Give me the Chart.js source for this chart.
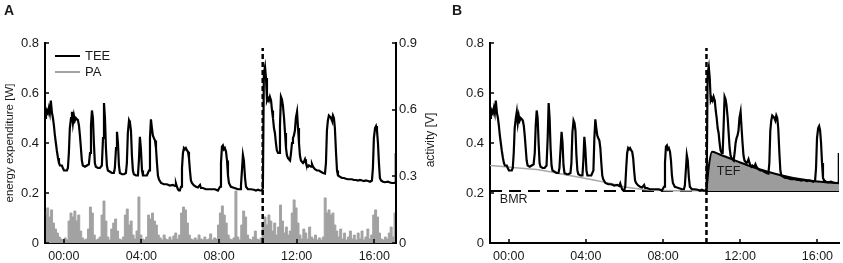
<!DOCTYPE html>
<html><head><meta charset="utf-8">
<script src="https://cdn.jsdelivr.net/npm/chart.js@4.4.0/dist/chart.umd.min.js"></script>
<style>
html,body{margin:0;padding:0;background:#fff;}
#wrap{position:relative;width:843px;height:263px;overflow:hidden;}
#cA{position:absolute;left:0;top:0;}
#cB{position:absolute;left:440px;top:0;}
</style></head><body>
<div id="wrap"><canvas id="cA" width="440" height="263"></canvas><canvas id="cB" width="403" height="263"></canvas></div>
<script>
// ---- data (hours relative to midnight) ----
const xMin = -0.97, xMax = 17.12;
const xTickHours = [0, 4, 8, 12, 16];
const xTickLabels = ['00:00', '04:00', '08:00', '12:00', '16:00'];
const mealHour = 10.25;
const mealLineTop = 0.78;

const teeHours = [-0.95,-0.92,-0.87,-0.82,-0.77,-0.72,-0.67,-0.61,-0.56,-0.51,-0.46,-0.41,-0.36,-0.30,-0.25,-0.20,-0.10,-0.05,0.01,0.06,0.11,0.16,0.21,0.26,0.31,0.37,0.42,0.47,0.52,0.57,0.62,0.68,0.73,0.78,0.83,0.88,0.93,0.98,1.09,1.19,1.29,1.35,1.40,1.45,1.50,1.55,1.60,1.65,1.76,1.86,1.96,2.02,2.07,2.12,2.17,2.22,2.27,2.38,2.48,2.58,2.63,2.69,2.74,2.79,2.84,2.89,3.00,3.10,3.20,3.25,3.30,3.36,3.41,3.46,3.51,3.56,3.61,3.72,3.82,3.87,3.92,3.97,4.03,4.08,4.18,4.28,4.39,4.44,4.49,4.54,4.59,4.64,4.70,4.75,4.80,4.85,4.90,5.01,5.16,5.31,5.47,5.62,5.73,5.78,5.83,5.88,5.93,5.98,6.04,6.09,6.14,6.19,6.24,6.29,6.35,6.40,6.45,6.50,6.55,6.60,6.71,6.81,6.91,7.02,7.07,7.17,7.32,7.48,7.63,7.79,7.94,8.05,8.10,8.15,8.20,8.25,8.30,8.36,8.41,8.46,8.51,8.61,8.72,8.87,8.97,9.08,9.13,9.18,9.23,9.28,9.34,9.39,9.49,9.64,9.80,9.90,10.01,10.11,10.21,10.26,10.31,10.37,10.42,10.47,10.52,10.57,10.62,10.68,10.73,10.78,10.83,10.88,10.93,10.98,11.04,11.09,11.14,11.19,11.24,11.29,11.35,11.40,11.45,11.50,11.55,11.60,11.66,11.71,11.76,11.81,11.86,11.91,11.96,12.02,12.07,12.12,12.17,12.22,12.27,12.33,12.38,12.43,12.48,12.53,12.58,12.63,12.74,12.79,12.84,12.94,13.05,13.15,13.25,13.36,13.46,13.51,13.56,13.61,13.66,13.72,13.77,13.82,13.87,13.92,13.97,14.03,14.08,14.13,14.23,14.34,14.44,14.54,14.64,14.75,14.85,14.95,15.06,15.16,15.26,15.37,15.47,15.57,15.68,15.78,15.88,15.93,15.98,16.04,16.09,16.14,16.19,16.24,16.29,16.35,16.45,16.55,16.71,16.81,16.91,17.02,17.07,17.11];
const teeWatts = [0.50,0.51,0.53,0.52,0.54,0.52,0.57,0.52,0.50,0.47,0.43,0.40,0.37,0.34,0.32,0.31,0.31,0.30,0.29,0.29,0.29,0.29,0.30,0.36,0.46,0.50,0.525,0.48,0.51,0.49,0.50,0.495,0.49,0.47,0.43,0.38,0.33,0.31,0.305,0.31,0.315,0.36,0.47,0.53,0.50,0.40,0.32,0.305,0.30,0.30,0.31,0.42,0.56,0.50,0.38,0.31,0.29,0.285,0.28,0.28,0.30,0.38,0.445,0.40,0.31,0.28,0.275,0.275,0.28,0.32,0.44,0.49,0.48,0.45,0.35,0.29,0.275,0.27,0.27,0.33,0.425,0.38,0.29,0.27,0.27,0.27,0.29,0.42,0.495,0.46,0.43,0.42,0.41,0.38,0.32,0.27,0.255,0.24,0.235,0.235,0.23,0.232,0.228,0.238,0.225,0.215,0.21,0.21,0.225,0.30,0.36,0.38,0.375,0.38,0.37,0.365,0.34,0.29,0.25,0.24,0.23,0.225,0.222,0.232,0.22,0.22,0.215,0.215,0.215,0.215,0.21,0.225,0.32,0.385,0.39,0.375,0.38,0.365,0.33,0.27,0.24,0.225,0.222,0.218,0.215,0.215,0.23,0.29,0.352,0.33,0.26,0.225,0.215,0.215,0.213,0.21,0.213,0.21,0.21,0.22,0.68,0.705,0.66,0.57,0.58,0.57,0.585,0.57,0.53,0.50,0.46,0.44,0.40,0.37,0.36,0.36,0.47,0.585,0.575,0.55,0.50,0.44,0.38,0.35,0.34,0.335,0.33,0.36,0.40,0.42,0.43,0.45,0.50,0.525,0.46,0.40,0.35,0.33,0.325,0.32,0.325,0.335,0.32,0.31,0.305,0.31,0.305,0.315,0.305,0.295,0.29,0.29,0.285,0.28,0.278,0.32,0.45,0.49,0.51,0.505,0.50,0.49,0.51,0.50,0.46,0.36,0.29,0.27,0.265,0.26,0.26,0.257,0.255,0.255,0.255,0.252,0.252,0.25,0.252,0.25,0.248,0.25,0.248,0.245,0.25,0.30,0.42,0.46,0.468,0.45,0.40,0.32,0.26,0.25,0.245,0.243,0.245,0.242,0.24,0.24,0.242,0.36];

// physical activity, sampled every 0.1 h from paStartHour
const paStartHour = -0.93;
const paStepHours = 0.1;
const paVolts = [0.135,0.158,0.117,0.149,0.090,0.063,0.045,0.027,0.018,0.014,0.023,0.014,0.099,0.135,0.117,0.144,0.099,0.126,0.054,0.023,0.014,0.018,0.063,0.162,0.135,0.036,0.014,0.018,0.027,0.126,0.189,0.099,0.027,0.014,0.063,0.090,0.108,0.054,0.018,0.014,0.027,0.126,0.153,0.081,0.099,0.036,0.018,0.054,0.207,0.036,0.018,0.014,0.027,0.126,0.108,0.135,0.099,0.081,0.036,0.023,0.014,0.036,0.018,0.014,0.027,0.014,0.032,0.045,0.018,0.036,0.135,0.162,0.149,0.090,0.036,0.018,0.014,0.023,0.014,0.036,0.018,0.014,0.027,0.014,0.018,0.041,0.014,0.023,0.018,0.081,0.135,0.167,0.126,0.090,0.036,0.018,0.014,0.023,0.234,0.027,0.014,0.081,0.144,0.117,0.036,0.018,0.014,0.027,0.054,0.018,0.014,0.023,0.090,0.117,0.081,0.126,0.099,0.054,0.090,0.036,0.072,0.171,0.099,0.045,0.072,0.036,0.054,0.135,0.194,0.158,0.090,0.036,0.018,0.063,0.045,0.018,0.072,0.027,0.018,0.036,0.014,0.023,0.014,0.027,0.203,0.135,0.149,0.126,0.135,0.081,0.054,0.027,0.063,0.018,0.045,0.014,0.027,0.054,0.018,0.036,0.014,0.045,0.018,0.054,0.014,0.027,0.063,0.018,0.036,0.126,0.149,0.117,0.045,0.018,0.014,0.027,0.018,0.045,0.072,0.027,0.135];

// panel B model curves
const bmrWatts = 0.208;
const baselineHours = [-0.97, 0.5, 1.6, 3.0, 4.2, 5.3, 6.2, 7.0, 8.0, 10.25];
const baselineWatts = [0.31, 0.30, 0.292, 0.272, 0.255, 0.238, 0.222, 0.214, 0.21, 0.209];
const tefHours = [10.25, 10.37, 10.54, 10.88, 11.31, 12.0, 12.6, 13.3, 14.0, 14.75, 15.5, 16.3, 17.12];
const tefWatts = [0.208, 0.305, 0.365, 0.356, 0.343, 0.322, 0.305, 0.288, 0.273, 0.26, 0.251, 0.244, 0.239];

// ---- build points ----
const pts = (xs, ys) => xs.map((x, i) => ({x: x, y: ys[i]}));
const teePoints = pts(teeHours, teeWatts);
const paPoints = paVolts.map((v, i) => ({x: paStartHour + i * paStepHours, y: v}));
const mealPoints = [{x: mealHour, y: 0}, {x: mealHour, y: mealLineTop}];
const baselinePoints = pts(baselineHours, baselineWatts);
const tefPoints = pts(tefHours, tefWatts);
const bmrDashPoints = [{x: xMin, y: bmrWatts}, {x: mealHour, y: bmrWatts}];
const bmrSolidPoints = [{x: mealHour, y: bmrWatts}, {x: xMax, y: bmrWatts}];

const FONT = '"Liberation Sans", Arial, Helvetica, sans-serif';
Chart.defaults.font.family = FONT;
Chart.defaults.color = '#1a1a1a';
Chart.defaults.animation = false;

const TXT = '#1a1a1a';
const PA_GRAY = '#a2a2a2';

function xScaleCfg() {
  return {
    type: 'linear', min: xMin, max: xMax,
    afterBuildTicks: s => { s.ticks = xTickHours.map(v => ({value: v})); },
    ticks: { autoSkip: false, maxRotation: 0, padding: 6, font: {size: 12.5},
             callback: v => { const i = xTickHours.indexOf(v); return i >= 0 ? xTickLabels[i] : ''; } },
    grid: { display: false, drawTicks: false },
    border: { display: true, color: '#000', width: 2 },
    afterFit: s => { s.height = 20; }
  };
}

function drawInwardTicks(chart, specs) {
  const ctx = chart.ctx, ca = chart.chartArea;
  ctx.save();
  ctx.strokeStyle = '#000'; ctx.lineWidth = 1.5;
  specs.forEach(([id, dir]) => {
    const s = chart.scales[id];
    s.ticks.forEach(t => {
      const p = Math.round(s.getPixelForValue(t.value));
      ctx.beginPath();
      if (dir === 'up') { ctx.moveTo(p, ca.bottom); ctx.lineTo(p, ca.bottom - 4); }
      else if (dir === 'right') { ctx.moveTo(ca.left, p); ctx.lineTo(ca.left + 4, p); }
      else { ctx.moveTo(ca.right, p); ctx.lineTo(ca.right - 4, p); }
      ctx.stroke();
    });
  });
  ctx.restore();
}

function text(ctx, str, x, y, font, align, rot) {
  ctx.save();
  ctx.font = font; ctx.fillStyle = TXT; ctx.textAlign = align || 'left'; ctx.textBaseline = 'middle';
  ctx.translate(x, y);
  if (rot) ctx.rotate(rot);
  ctx.fillText(str, 0, 0);
  ctx.restore();
}

const decorA = {
  id: 'decorA',
  afterDraw(chart) {
    const ctx = chart.ctx, ca = chart.chartArea;
    drawInwardTicks(chart, [['x', 'up'], ['y', 'right'], ['y1', 'left']]);
    // right axis title (reads bottom to top)
    text(ctx, 'activity [V]', 431, (ca.top + ca.bottom) / 2 - 3, '12px ' + FONT, 'center', -Math.PI / 2);
    // legend
    const ds = chart.data.datasets.filter(d => d.inLegend);
    ds.forEach((d, i) => {
      const y = ca.top + 13 + i * 16;
      ctx.save();
      ctx.strokeStyle = d.borderColor; ctx.lineWidth = 2;
      ctx.beginPath(); ctx.moveTo(ca.left + 10, y); ctx.lineTo(ca.left + 35, y); ctx.stroke();
      ctx.restore();
      text(ctx, d.label, ca.left + 40, y, '13px ' + FONT, 'left');
    });
    text(ctx, 'A', 9, 11, 'bold 14px ' + FONT, 'center');
  }
};

const decorB = {
  id: 'decorB',
  afterDraw(chart) {
    const ctx = chart.ctx, xs = chart.scales.x, ys = chart.scales.y;
    drawInwardTicks(chart, [['x', 'up'], ['y', 'right']]);
    text(ctx, 'BMR', xs.getPixelForValue(-0.46), ys.getPixelForValue(0.172), '12.5px ' + FONT, 'left');
    text(ctx, 'TEF', xs.getPixelForValue(11.4), ys.getPixelForValue(0.284), '12.5px ' + FONT, 'center');
    text(ctx, 'B', 17, 11, 'bold 14px ' + FONT, 'center');
  }
};

new Chart(document.getElementById('cA'), {
  type: 'line',
  data: { datasets: [
    { label: 'meal', data: mealPoints, borderColor: '#000', borderWidth: 2.5, borderDash: [5, 3], pointRadius: 0, yAxisID: 'y' },
    { label: 'TEE', inLegend: true, data: teePoints, borderColor: '#000', borderWidth: 2.2, pointRadius: 0, yAxisID: 'y' },
    { label: 'PA', inLegend: true, data: paPoints, borderColor: PA_GRAY, backgroundColor: PA_GRAY, borderWidth: 1, pointRadius: 0, stepped: 'middle', fill: 'origin', yAxisID: 'y1' }
  ]},
  options: {
    responsive: false, animation: false,
    layout: { padding: { top: 43, left: 0, right: 0, bottom: 0 } },
    plugins: { legend: { display: false }, tooltip: { enabled: false } },
    scales: {
      x: xScaleCfg(),
      y: {
        type: 'linear', position: 'left', min: 0, max: 0.8,
        ticks: { stepSize: 0.2, padding: 6, font: {size: 13} },
        grid: { display: false, drawTicks: false },
        border: { display: true, color: '#000', width: 2 },
        title: { display: true, text: 'energy expenditure [W]', font: {size: 11.5}, color: TXT, padding: {top: 3, bottom: 0} },
        afterFit: s => { s.width = 45; }
      },
      y1: {
        type: 'linear', position: 'right', min: 0, max: 0.9,
        ticks: { stepSize: 0.3, padding: 3, font: {size: 13} },
        grid: { display: false, drawTicks: false },
        border: { display: true, color: '#000', width: 2 },
        afterFit: s => { s.width = 44; }
      }
    }
  },
  plugins: [decorA]
});

new Chart(document.getElementById('cB'), {
  type: 'line',
  data: { datasets: [
    { label: 'meal', data: mealPoints, borderColor: '#000', borderWidth: 2.5, borderDash: [5, 3], pointRadius: 0 },
    { label: 'TEE', data: teePoints, borderColor: '#000', borderWidth: 2.2, pointRadius: 0 },
    { label: 'baseline', data: baselinePoints, borderColor: '#a8a8a8', borderWidth: 1.6, pointRadius: 0, cubicInterpolationMode: 'monotone' },
    { label: 'TEF', data: tefPoints, borderColor: '#000', borderWidth: 2, backgroundColor: '#9c9c9c', pointRadius: 0, cubicInterpolationMode: 'monotone', fill: { value: bmrWatts } },
    { label: 'BMR', data: bmrDashPoints, borderColor: '#000', borderWidth: 2, borderDash: [12, 7], pointRadius: 0 },
    { label: 'BMR2', data: bmrSolidPoints, borderColor: '#000', borderWidth: 2, pointRadius: 0 }
  ]},
  options: {
    responsive: false, animation: false,
    layout: { padding: { top: 43, left: 0, right: 4, bottom: 0 } },
    plugins: { legend: { display: false }, tooltip: { enabled: false } },
    scales: {
      x: xScaleCfg(),
      y: {
        type: 'linear', position: 'left', min: 0, max: 0.8,
        ticks: { stepSize: 0.2, padding: 6, font: {size: 13} },
        grid: { display: false, drawTicks: false },
        border: { display: true, color: '#000', width: 2 },
        afterFit: s => { s.width = 50; }
      }
    }
  },
  plugins: [decorB]
});
</script>
</body></html>
